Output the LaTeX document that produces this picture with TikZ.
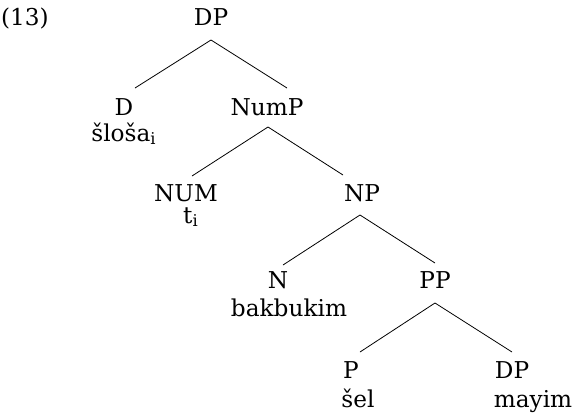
\documentclass[tikz,border=0pt]{standalone}
\usepackage{fontspec}
\setmainfont{DejaVu Serif}
\usepackage{tikz}

\begin{document}
\begin{tikzpicture}[x=0.5pt, y=-0.5pt, auto]
    \tikzstyle{tree label} = [anchor=base, inner sep=0pt, font=\fontsize{11.6}{14}\selectfont]
    \tikzstyle{tree word} = [tree label]
    \tikzstyle{tree edge} = [draw=black, line width=0.4pt]
\useasboundingbox (0,0) rectangle (574,413);
\node[tree label] (ex) at (25, 25) {(13)};
\node[tree label] (DP) at (211, 25) {DP};
\node[tree label] (D) at (124, 115) {D};
\node[tree word] (dword) at (124, 141) {šloša\textsubscript{i}};
\node[tree label] (NumP) at (267, 115) {NumP};
\node[tree label] (NUM) at (186, 201) {NUM};
\node[tree word] (numword) at (191, 223) {t\textsubscript{i}};
\node[tree label] (NP) at (362, 201) {NP};
\node[tree label] (N) at (278, 288) {N};
\node[tree word] (nword) at (289, 316) {bakbukim};
\node[tree label] (PP) at (435, 288) {PP};
\node[tree label] (P) at (351, 378) {P};
\node[tree word] (pword) at (358, 407) {šel};
\node[tree label] (DPb) at (512, 378) {DP};
\node[tree word] (dpword) at (533, 407) {mayim};
\draw[tree edge] ([shift={(0,15)}]DP.base) to ([shift={(11,-27)}]D.base);
\draw[tree edge] ([shift={(0,15)}]DP.base) to ([shift={(20,-27)}]NumP.base);
\draw[tree edge] ([shift={(1,12)}]NumP.base) to ([shift={(6,-25)}]NUM.base);
\draw[tree edge] ([shift={(1,12)}]NumP.base) to ([shift={(-19,-26)}]NP.base);
\draw[tree edge] ([shift={(-2,14)}]NP.base) to ([shift={(5,-23)}]N.base);
\draw[tree edge] ([shift={(-2,14)}]NP.base) to ([shift={(0,-25)}]PP.base);
\draw[tree edge] ([shift={(0,15)}]PP.base) to ([shift={(9,-26)}]P.base);
\draw[tree edge] ([shift={(0,15)}]PP.base) to ([shift={(0,-26)}]DPb.base);
\end{tikzpicture}
\end{document}
